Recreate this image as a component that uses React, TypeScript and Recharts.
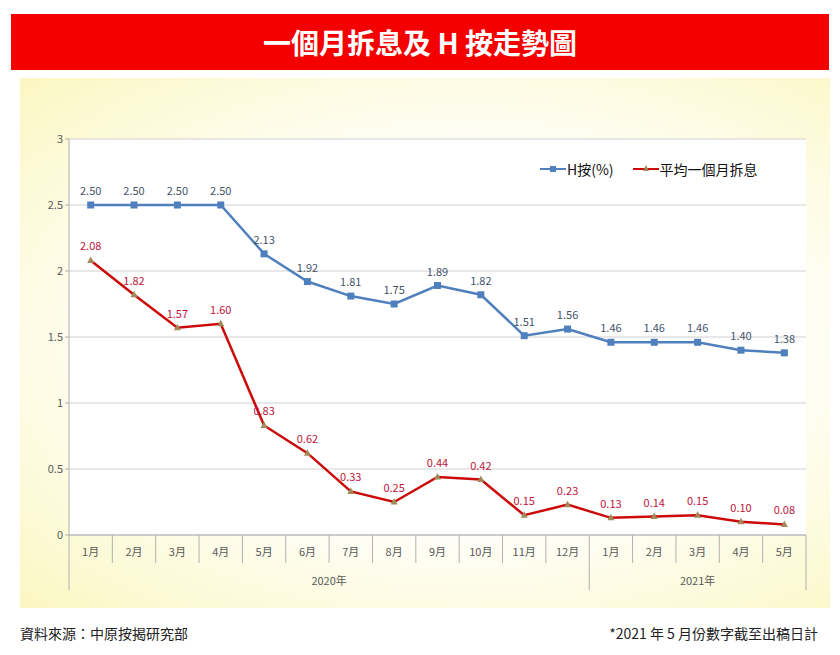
import { LineChart, Line, XAxis, YAxis, CartesianGrid, LabelList } from 'recharts';

const meses = ['1月', '2月', '3月', '4月', '5月', '6月', '7月', '8月', '9月', '10月', '11月', '12月', '1月', '2月', '3月', '4月', '5月'];
const anos = ['2020年', '2020年', '2020年', '2020年', '2020年', '2020年', '2020年', '2020年', '2020年', '2020年', '2020年', '2020年', '2021年', '2021年', '2021年', '2021年', '2021年'];
const hAn = [2.5, 2.5, 2.5, 2.5, 2.13, 1.92, 1.81, 1.75, 1.89, 1.82, 1.51, 1.56, 1.46, 1.46, 1.46, 1.4, 1.38];
const chaiXi = [2.08, 1.82, 1.57, 1.6, 0.83, 0.62, 0.33, 0.25, 0.44, 0.42, 0.15, 0.23, 0.13, 0.14, 0.15, 0.1, 0.08];
const yTicks = [0, 0.5, 1, 1.5, 2, 2.5, 3];

const FONTE = '"Noto Sans CJK TC", "Noto Sans", sans-serif';
const AZUL = '#4f7fbd';
const VERMELHO = '#cc0a0a';

const PLOT_L = 69;
const PLOT_R = 806;
const PLOT_B = 535;
const BW = (PLOT_R - PLOT_L) / meses.length;

const dados = meses.map((m, i) => ({ idx: i, mes: m, ano: anos[i], h: hAn[i], chai: chaiXi[i] }));

const MesTick = ({ x, payload }: any) => {
  const i = payload.value as number;
  const esq = x - BW / 2;
  const novoAno = i === 0 || anos[i] !== anos[i - 1];
  const grupo = anos.filter((a) => a === anos[i]).length;
  const ultimo = i === meses.length - 1;
  return (
    <g>
      <line x1={esq} x2={esq} y1={PLOT_B} y2={novoAno ? PLOT_B + 55 : PLOT_B + 28} stroke="#b0b0b0" />
      {ultimo && <line x1={x + BW / 2} x2={x + BW / 2} y1={PLOT_B} y2={PLOT_B + 55} stroke="#b0b0b0" />}
      <text x={x} y={PLOT_B + 21} textAnchor="middle" fontSize={11} fill="#595959" fontFamily={FONTE}>
        {meses[i]}
      </text>
      {novoAno && (
        <text x={esq + (grupo * BW) / 2} y={PLOT_B + 50} textAnchor="middle" fontSize={11} fill="#595959" fontFamily={FONTE}>
          {anos[i]}
        </text>
      )}
    </g>
  );
};

const Quadrado = (p: any) => (
  <rect key={`q-${p.index}`} x={p.cx - 3.5} y={p.cy - 3.5} width={7} height={7} fill={AZUL} />
);

const Triangulo = (p: any) => (
  <polygon
    key={`t-${p.index}`}
    points={`${p.cx},${p.cy - 4} ${p.cx - 3.5},${p.cy + 2.5} ${p.cx + 3.5},${p.cy + 2.5}`}
    fill="#a08a5a"
  />
);

export default function App() {
  return (
    <div style={{ position: 'absolute', left: 0, top: 0, width: 840, height: 655, background: '#fff', fontFamily: FONTE }}>
      <div
        style={{
          position: 'absolute', left: 11, top: 14, width: 818, height: 56, background: '#f40000',
          color: '#fff', fontSize: 28, fontWeight: 700, textAlign: 'center', lineHeight: '56px',
        }}
      >
        一個月拆息及 H 按走勢圖
      </div>

      <div
        style={{
          position: 'absolute', left: 20, top: 78, width: 810, height: 530,
          background: 'radial-gradient(ellipse at 55% 50%, #ffffff 45%, #fbf7c2 100%)',
        }}
      />
      <div style={{ position: 'absolute', left: PLOT_L, top: 139, width: PLOT_R - PLOT_L, height: PLOT_B - 139, background: '#fff' }} />

      <div style={{ position: 'absolute', left: 0, top: 0 }}>
        <LineChart width={840} height={655} data={dados} margin={{ top: 139, right: 34, bottom: 60, left: 29 }}>
          <CartesianGrid vertical={false} stroke="#d0d0d0" />
          <YAxis
            width={40}
            domain={[0, 3]}
            ticks={yTicks}
            axisLine={{ stroke: '#b0b0b0' }}
            tickLine={{ stroke: '#b0b0b0' }}
            tickSize={4}
            tick={{ fontSize: 11, fill: '#595959', fontFamily: FONTE }}
          />
          <XAxis
            dataKey="idx"
            height={60}
            interval={0}
            padding={{ left: BW / 2, right: BW / 2 }}
            axisLine={{ stroke: '#b0b0b0' }}
            tickLine={false}
            tick={<MesTick />}
          />
          <Line
            dataKey="h"
            stroke={AZUL}
            strokeWidth={2.5}
            dot={Quadrado}
            activeDot={false}
            isAnimationActive={false}
          >
            <LabelList dataKey="h" position="top" offset={10} fontSize={11} fill="#44546a" fontFamily={FONTE} formatter={(v: any) => Number(v).toFixed(2)} />
          </Line>
          <Line
            dataKey="chai"
            stroke={VERMELHO}
            strokeWidth={2.5}
            dot={Triangulo}
            activeDot={false}
            isAnimationActive={false}
          >
            <LabelList dataKey="chai" position="top" offset={10} fontSize={11} fill="#c0143c" fontFamily={FONTE} formatter={(v: any) => Number(v).toFixed(2)} />
          </Line>
        </LineChart>
      </div>

      <div style={{ position: 'absolute', left: 540, top: 159, display: 'flex', alignItems: 'center', fontSize: 14, color: '#111' }}>
        <svg width={26} height={10}>
          <line x1={0} x2={26} y1={5} y2={5} stroke={AZUL} strokeWidth={2} />
          <rect x={10} y={2} width={6} height={6} fill={AZUL} />
        </svg>
        <span style={{ marginLeft: 1 }}>H按(%)</span>
        <svg width={26} height={10} style={{ marginLeft: 19 }}>
          <line x1={0} x2={26} y1={5} y2={5} stroke={VERMELHO} strokeWidth={2} />
          <polygon points="13,1 10,7 16,7" fill="#a08a5a" />
        </svg>
        <span style={{ marginLeft: 1 }}>平均一個月拆息</span>
      </div>

      <div style={{ position: 'absolute', left: 20, top: 623, fontSize: 14, color: '#222' }}>資料來源：中原按揭研究部</div>
      <div style={{ position: 'absolute', right: 22, top: 623, fontSize: 14, color: '#222' }}>*2021 年 5 月份數字截至出稿日計</div>
    </div>
  );
}
